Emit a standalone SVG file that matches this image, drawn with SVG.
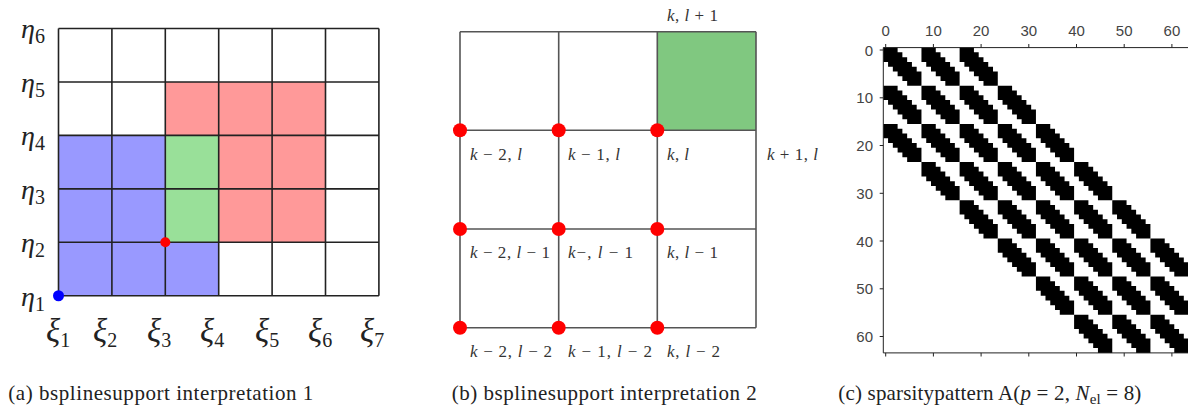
<svg xmlns="http://www.w3.org/2000/svg" xmlns:xlink="http://www.w3.org/1999/xlink" width="1188" height="407" viewBox="0 0 1188 407">
<style>
.gk{font-family:"Liberation Serif","DejaVu Serif",serif;font-style:italic;font-size:28px;fill:#222}
.xi{font-size:33px}
.sub{font-style:normal;font-size:20px}
.gridA{fill:none;stroke:#222;stroke-width:1.6}
.gridB{fill:none;stroke:#555;stroke-width:1.6}
.lb{font-family:"Liberation Serif","DejaVu Serif",serif;font-size:17px;fill:#333}
.it{font-style:italic}
.tk{font-family:"Liberation Sans","DejaVu Sans",sans-serif;font-size:15px;fill:#444}
.ax{fill:none;stroke:#222;stroke-width:1}
.cap{font-family:"Liberation Serif","DejaVu Serif",serif;font-size:21px;fill:#222}
.dot{fill:#ff0000}
</style>
<defs>
<path id="blk" d="M0,0 H3 V1 H4 V2 H5 V3 H6 V4 H7 V5 H8 V8 H5 V7 H4 V6 H3 V5 H2 V4 H1 V3 H0 Z" fill="#000"/>
</defs>
<rect width="1188" height="407" fill="#fff"/>

<g id="panel-a">
<path d="M58.5,135.4 H165.3 V242.3 H218.7 V295.75 H58.5 Z" fill="#9999ff"/>
<path d="M165.3,81.95 H325.5 V242.3 H218.7 V135.4 H165.3 Z" fill="#ff9999"/>
<rect x="165.3" y="135.4" width="53.4" height="106.9" fill="#99e099"/>
<path class="gridA" d="M58.5,28.5V295.75M111.9,28.5V295.75M165.3,28.5V295.75M218.7,28.5V295.75M272.1,28.5V295.75M325.5,28.5V295.75M378.9,28.5V295.75M58.5,28.5H378.9M58.5,81.95H378.9M58.5,135.4H378.9M58.5,188.85H378.9M58.5,242.3H378.9M58.5,295.75H378.9"/>
<circle class="dot" cx="165.3" cy="242.3" r="5"/>
<circle cx="58.5" cy="295.75" r="5.5" fill="#0000ff"/>
<g id="eta-labels">
<text class="gk" x="21" y="38">η<tspan class="sub" dy="5">6</tspan></text>
<text class="gk" x="21" y="91.6">η<tspan class="sub" dy="5">5</tspan></text>
<text class="gk" x="21" y="145.2">η<tspan class="sub" dy="5">4</tspan></text>
<text class="gk" x="21" y="198.8">η<tspan class="sub" dy="5">3</tspan></text>
<text class="gk" x="21" y="252.4">η<tspan class="sub" dy="5">2</tspan></text>
<text class="gk" x="21" y="306">η<tspan class="sub" dy="5">1</tspan></text>
</g>
<g id="xi-labels">
<text class="gk xi" x="46" y="342">ξ<tspan class="sub" dy="5">1</tspan></text>
<text class="gk xi" x="93" y="342">ξ<tspan class="sub" dy="5">2</tspan></text>
<text class="gk xi" x="147" y="342">ξ<tspan class="sub" dy="5">3</tspan></text>
<text class="gk xi" x="200" y="342">ξ<tspan class="sub" dy="5">4</tspan></text>
<text class="gk xi" x="255" y="342">ξ<tspan class="sub" dy="5">5</tspan></text>
<text class="gk xi" x="308" y="342">ξ<tspan class="sub" dy="5">6</tspan></text>
<text class="gk xi" x="360" y="342">ξ<tspan class="sub" dy="5">7</tspan></text>
</g>
</g>

<g id="panel-b">
<rect x="657.3" y="31.7" width="98.7" height="98.6" fill="#80c880"/>
<path class="gridB" d="M460,31.7V327.7M558.7,31.7V327.7M657.3,31.7V327.7M756,31.7V327.7M460,31.7H756M460,130.3H756M460,229H756M460,327.7H756"/>
<g id="dots-b">
<circle class="dot" cx="460" cy="130.3" r="7"/><circle class="dot" cx="558.7" cy="130.3" r="7"/><circle class="dot" cx="657.3" cy="130.3" r="7"/>
<circle class="dot" cx="460" cy="229" r="7"/><circle class="dot" cx="558.7" cy="229" r="7"/><circle class="dot" cx="657.3" cy="229" r="7"/>
<circle class="dot" cx="460" cy="327.7" r="7"/><circle class="dot" cx="558.7" cy="327.7" r="7"/><circle class="dot" cx="657.3" cy="327.7" r="7"/>
</g>
<g id="labels-b">
<text class="lb" x="667" y="21" textLength="51"><tspan class="it">k</tspan>, <tspan class="it">l</tspan> + 1</text>
<text class="lb" x="470" y="160" textLength="52"><tspan class="it">k</tspan> − 2, <tspan class="it">l</tspan></text>
<text class="lb" x="568" y="160" textLength="52"><tspan class="it">k</tspan> − 1, <tspan class="it">l</tspan></text>
<text class="lb" x="667" y="160" textLength="22"><tspan class="it">k</tspan>, <tspan class="it">l</tspan></text>
<text class="lb" x="767" y="160" textLength="51"><tspan class="it">k</tspan> + 1, <tspan class="it">l</tspan></text>
<text class="lb" x="470" y="258" textLength="80"><tspan class="it">k</tspan> − 2, <tspan class="it">l</tspan> − 1</text>
<text class="lb" x="568" y="258" textLength="65"><tspan class="it">k</tspan>−, <tspan class="it">l</tspan> − 1</text>
<text class="lb" x="667" y="258" textLength="51"><tspan class="it">k</tspan>, <tspan class="it">l</tspan> − 1</text>
<text class="lb" x="470" y="357" textLength="82"><tspan class="it">k</tspan> − 2, <tspan class="it">l</tspan> − 2</text>
<text class="lb" x="568" y="357" textLength="84"><tspan class="it">k</tspan> − 1, <tspan class="it">l</tspan> − 2</text>
<text class="lb" x="667" y="357" textLength="53"><tspan class="it">k</tspan>, <tspan class="it">l</tspan> − 2</text>
</g>
</g>

<g id="panel-c">
<g id="matrix" transform="translate(883.3,47.6) scale(4.77)">
<use href="#blk" x="0" y="0"/><use href="#blk" x="8" y="0"/><use href="#blk" x="16" y="0"/>
<use href="#blk" x="0" y="8"/><use href="#blk" x="8" y="8"/><use href="#blk" x="16" y="8"/><use href="#blk" x="24" y="8"/>
<use href="#blk" x="0" y="16"/><use href="#blk" x="8" y="16"/><use href="#blk" x="16" y="16"/><use href="#blk" x="24" y="16"/><use href="#blk" x="32" y="16"/>
<use href="#blk" x="8" y="24"/><use href="#blk" x="16" y="24"/><use href="#blk" x="24" y="24"/><use href="#blk" x="32" y="24"/><use href="#blk" x="40" y="24"/>
<use href="#blk" x="16" y="32"/><use href="#blk" x="24" y="32"/><use href="#blk" x="32" y="32"/><use href="#blk" x="40" y="32"/><use href="#blk" x="48" y="32"/>
<use href="#blk" x="24" y="40"/><use href="#blk" x="32" y="40"/><use href="#blk" x="40" y="40"/><use href="#blk" x="48" y="40"/><use href="#blk" x="56" y="40"/>
<use href="#blk" x="32" y="48"/><use href="#blk" x="40" y="48"/><use href="#blk" x="48" y="48"/><use href="#blk" x="56" y="48"/>
<use href="#blk" x="40" y="56"/><use href="#blk" x="48" y="56"/><use href="#blk" x="56" y="56"/>
</g>
<path class="ax" d="M883.3,47.6V352.9M883.3,47.6H1188M883.3,352.9H1188"/>
<path class="ax" d="M885.7,47.6V44M933.4,47.6V44M981.1,47.6V44M1028.8,47.6V44M1076.5,47.6V44M1124.2,47.6V44M1171.9,47.6V44M885.7,352.9V356.5M933.4,352.9V356.5M981.1,352.9V356.5M1028.8,352.9V356.5M1076.5,352.9V356.5M1124.2,352.9V356.5M1171.9,352.9V356.5M883.3,50H879.7M883.3,97.8H879.7M883.3,145.5H879.7M883.3,193.3H879.7M883.3,241H879.7M883.3,288.8H879.7M883.3,336.5H879.7"/>
<g id="ticklabels" class="tk">
<text x="885.7" y="36" text-anchor="middle">0</text>
<text x="933.4" y="36" text-anchor="middle">10</text>
<text x="981.1" y="36" text-anchor="middle">20</text>
<text x="1028.8" y="36" text-anchor="middle">30</text>
<text x="1076.5" y="36" text-anchor="middle">40</text>
<text x="1124.2" y="36" text-anchor="middle">50</text>
<text x="1171.9" y="36" text-anchor="middle">60</text>
<text x="873" y="55.5" text-anchor="end">0</text>
<text x="873" y="103.3" text-anchor="end">10</text>
<text x="873" y="151" text-anchor="end">20</text>
<text x="873" y="198.8" text-anchor="end">30</text>
<text x="873" y="246.5" text-anchor="end">40</text>
<text x="873" y="294.3" text-anchor="end">50</text>
<text x="873" y="342" text-anchor="end">60</text>
</g>
</g>

<g id="captions">
<text class="cap" x="8.3" y="400" textLength="305">(a) bsplinesupport interpretation 1</text>
<text class="cap" x="451.7" y="400" textLength="305">(b) bsplinesupport interpretation 2</text>
<text class="cap" x="838.3" y="400" textLength="303">(c) sparsitypattern A(<tspan class="it">p</tspan> = 2, <tspan class="it">N</tspan><tspan font-size="15" dy="4">el</tspan><tspan dy="-4"> = 8)</tspan></text>
</g>
</svg>
